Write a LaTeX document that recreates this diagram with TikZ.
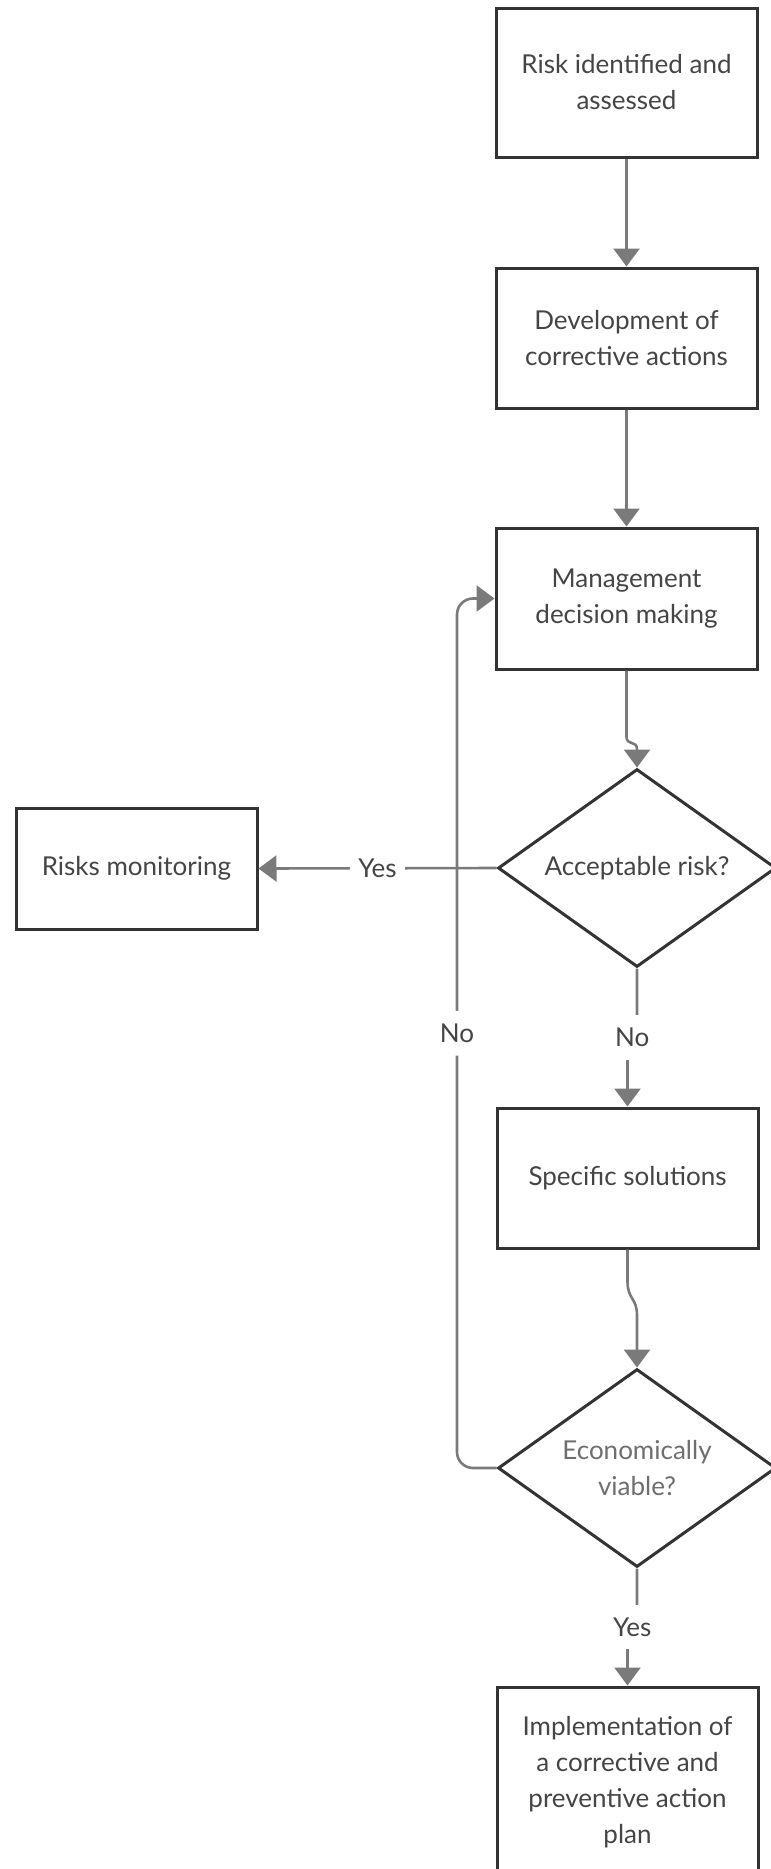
\documentclass[tikz,border=0pt]{standalone}
\usepackage{fontspec}
\setmainfont{Lato}
\usetikzlibrary{shapes.geometric,arrows.meta,calc}

\definecolor{boxline}{HTML}{333333}
\definecolor{connline}{HTML}{7A7A7A}
\definecolor{txt}{HTML}{454545}
\definecolor{txtlight}{HTML}{6E6E6E}

\tikzset{
  every node/.style={font=\fontsize{26pt}{36pt}\selectfont, text=txt},
  stepbox/.style={draw=boxline, line width=3pt, rectangle, fill=white,
    minimum width=261pt, align=center, inner sep=0pt},
  decision/.style={draw=boxline, line width=3pt, diamond, aspect=1.4,
    fill=white, minimum width=278pt, minimum height=198pt, align=center,
    inner sep=0pt},
  conn/.style={draw=connline, line width=2.6pt,
    -{Triangle[width=26pt,length=18pt]}},
  lbl/.style={fill=white, inner xsep=8pt, inner ysep=13pt,
    font=\fontsize{26pt}{30pt}\selectfont}
}

\begin{document}
\begin{tikzpicture}[x=1pt, y=-1pt]
  % page frame
  \useasboundingbox (0,0) rectangle (771,1869);
  \fill[white] (0,0) rectangle (771,1869);
  \clip (0,0) rectangle (771,1869);

  % process boxes
  \node[stepbox, minimum height=149pt] (risk) at (626.5,82.5)
    {Risk identified and\\assessed};
  \node[stepbox, minimum height=140pt] (dev) at (626.5,338)
    {Development of\\corrective actions};
  \node[stepbox, minimum height=141pt] (mgmt) at (626.5,598.5)
    {Management\\decision making};
  \node[decision] (acc) at (637,868) {Acceptable risk?};
  \node[stepbox, minimum width=241pt, minimum height=121pt] (mon)
    at (136.5,868.5) {Risks monitoring};
  \node[stepbox, minimum height=140pt] (spec) at (627.5,1178)
    {Specific solutions};
  \node[decision, text=txtlight] (econ) at (637,1468)
    {Economically\\viable?};
  \node[stepbox, minimum height=191pt] (impl) at (627.5,1782.5)
    {Implementation of\\a corrective and\\preventive action\\plan};

  % left rail of the feedback loop
  \coordinate (rail) at (457,0);

  % connectors
  \draw[conn] (risk.south) -- (dev.north);
  \draw[conn] (dev.south) -- (mgmt.north);
  \draw[conn] (mgmt.south) -- ($(mgmt.south)+(0,66)$)
    .. controls +(0,10) and +(0,-10) .. ($(acc.north)+(0,-18)$)
    -- (acc.north);
  \draw[conn, rounded corners=16pt] (econ.west) -- (econ.west -| rail)
    -- node[lbl, midway] {No} (mgmt.west -| rail) -- (mgmt.west);
  \draw[conn] (acc.west) -- node[lbl, midway] {Yes} (mon.east);
  \draw[conn] (acc.south) -- ($(acc.south)+(0,44)$)
    .. controls +(0,25) and +(0,-25) .. ($(spec.north)+(0,-44)$)
    -- (spec.north);
  \node[lbl] (noacc) at ($(acc.south)!0.5!(spec.north)$) {No};
  \draw[conn] (spec.south) -- ($(spec.south)+(0,32)$)
    .. controls +(0,18) and +(0,-18) .. ($(econ.north)+(0,-52)$)
    -- (econ.north);
  \draw[conn] (econ.south) -- ($(econ.south)+(0,36)$)
    .. controls +(0,25) and +(0,-25) .. ($(impl.north)+(0,-36)$)
    -- (impl.north);
  \node[lbl] (yesecon) at ($(econ.south)!0.5!(impl.north)$) {Yes};
\end{tikzpicture}
\end{document}
